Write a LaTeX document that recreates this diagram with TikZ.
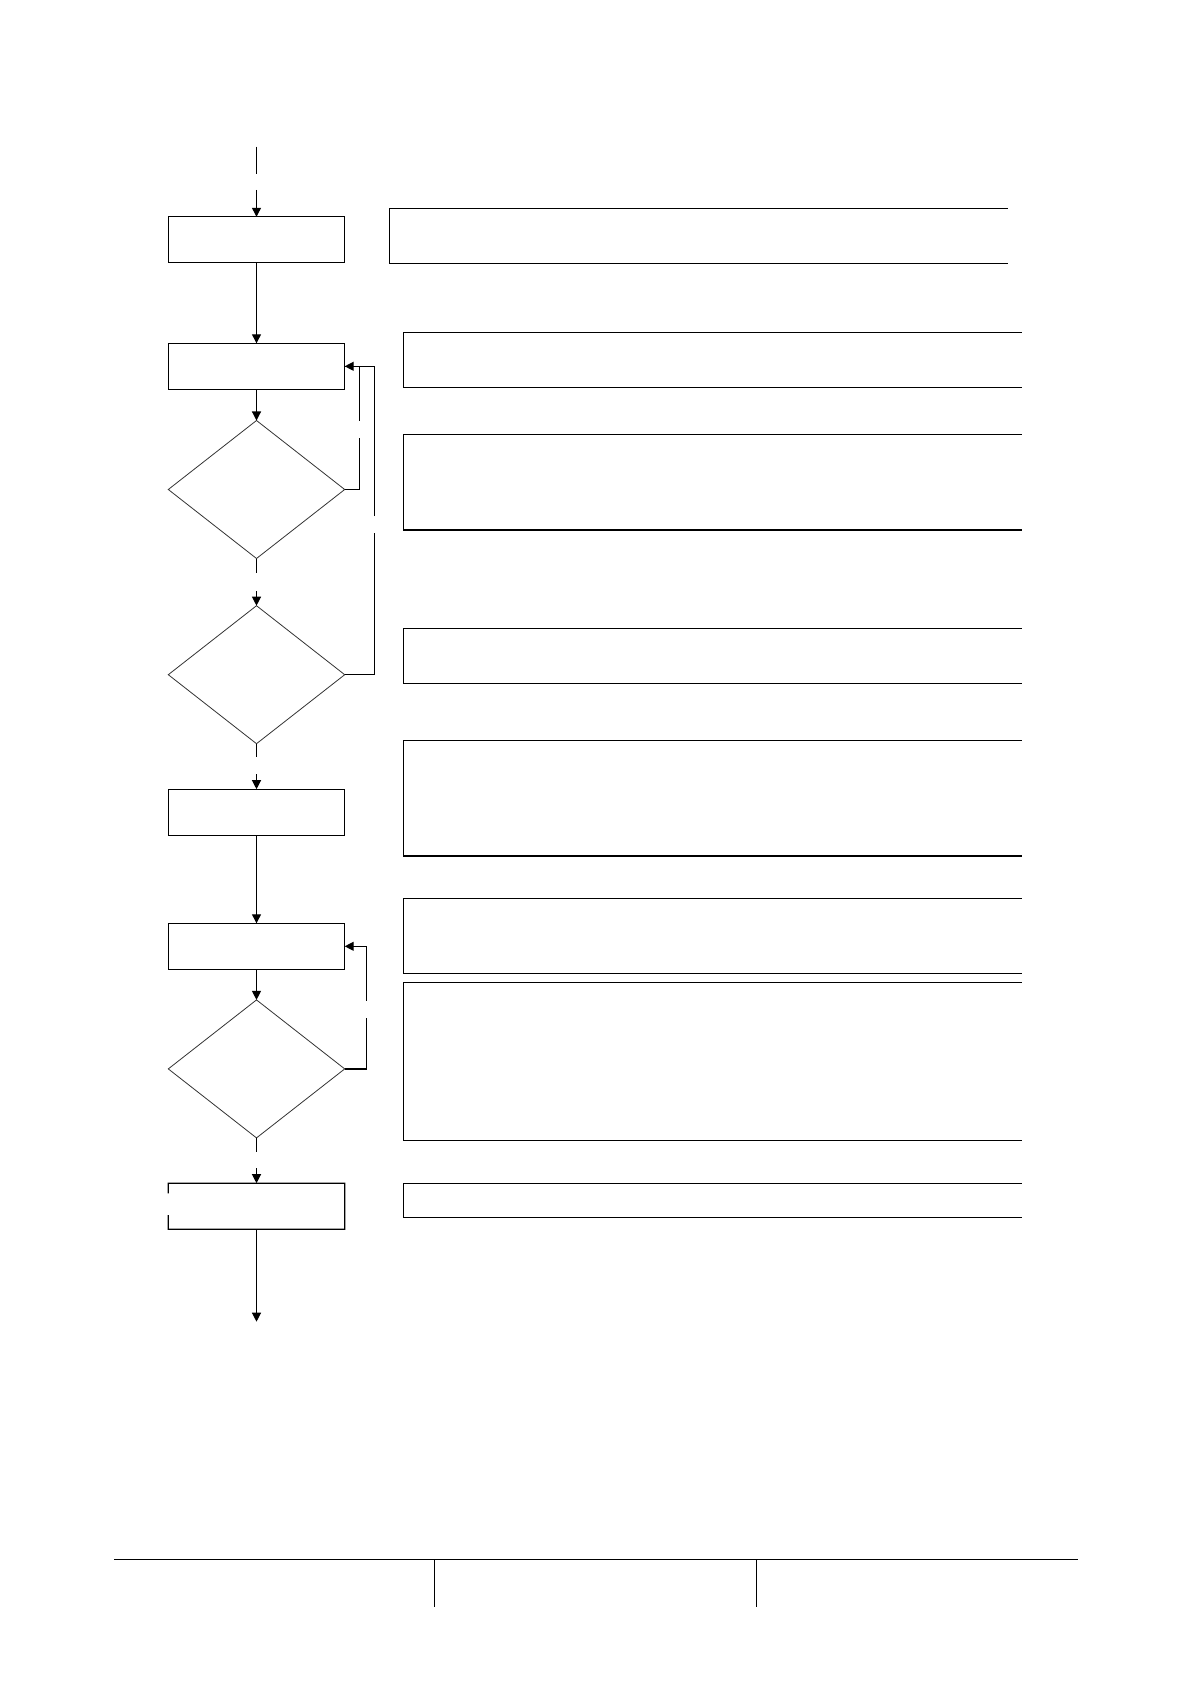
\documentclass[tikz,border=0pt]{standalone}
\usepackage{tikz}
\usetikzlibrary{shapes.geometric,arrows.meta,positioning}

\begin{document}
\begin{tikzpicture}[x=0.5pt,y=-0.5pt,
	stepbox/.style={draw,line width=0.6pt,minimum width=88.2pt,minimum height=23pt,inner sep=0pt,outer sep=0pt},
	testbox/.style={diamond,draw=black!80,line width=0.4pt,minimum width=88.2pt,minimum height=69pt,inner sep=0pt,outer sep=0pt},
	remark/.style={minimum width=309.2pt,inner sep=0pt,outer sep=0pt},
	conn/.style={line width=0.6pt},
	arr/.style={line width=0.6pt,-{Triangle[length=4.5pt,width=4.5pt]}}]
				\useasboundingbox (0,0) rectangle (1191,1684);
				% left column
				\node[stepbox] (box1) at (256.5,239.8) {};
				\node[stepbox] (box2) at (256.5,366.3) {};
				\node[testbox] (dia1) at (256.5,489.5) {};
				\node[testbox] (dia2) at (256.5,674.7) {};
				\node[stepbox] (box3) at (256.5,812.2) {};
				\node[stepbox] (box4) at (256.5,946.3) {};
				\node[testbox] (dia3) at (256.5,1068.9) {};
				\node[stepbox,draw=none] (box5) at (256.5,1206.2) {};
				\coordinate (g5a) at (168.3,1193.3);
				\coordinate (g5b) at (168.3,1215);
				\draw[conn] (g5a) |- (box5.north east) |- (box5.south west) -- (g5b);
				% free ends and gaps
				\coordinate (in) at (256.5,146.7);
				\coordinate (in1) at (256.5,174);
				\coordinate (in2) at (256.5,190);
				\coordinate (d1a) at (256.5,573.3);
				\coordinate (d1b) at (256.5,591.3);
				\coordinate (d2a) at (256.5,756.7);
				\coordinate (d2b) at (256.5,774);
				\coordinate (d3a) at (256.5,1151.7);
				\coordinate (d3b) at (256.5,1168.3);
				\coordinate (out) at (256.5,1321.7);
				\coordinate (l1a) at (359.3,438.3);
				\coordinate (l1b) at (359.3,420.7);
				\coordinate (l2a) at (374.3,533.3);
				\coordinate (l2b) at (374.3,516);
				\coordinate (l3a) at (366.7,1018.3);
				\coordinate (l3b) at (366.7,1000.7);
				% connectors
				\draw[conn] (in) -- (in1);
				\draw[arr] (in2) -- (box1);
				\draw[arr] (box1) -- (box2);
				\draw[arr] (box2) -- (dia1);
				\draw[conn] (dia1.south) -- (d1a);
				\draw[arr] (d1b) -- (dia2.north);
				\draw[conn] (dia2.south) -- (d2a);
				\draw[arr] (d2b) -- (box3);
				\draw[arr] (box3) -- (box4);
				\draw[arr] (box4) -- (dia3);
				\draw[conn] (dia3.south) -- (d3a);
				\draw[arr] (d3b) -- (box5);
				\draw[arr] (box5) -- (out);
				% loops back
				\draw[conn] (dia1.east) -| (l1a);
				\draw[arr] (l1b) |- (box2.east);
				\draw[conn] (dia2.east) -| (l2a);
				\draw[conn] (l2b) |- (box2.east);
				\draw[conn] (dia3.east) -| (l3a);
				\draw[arr] (l3b) |- (box4.east);
				% right column
				\node[remark,minimum height=27.5pt] (r1) at (698.3,235.8) {};
				\node[remark,minimum height=27.5pt] (r2) at (712.5,359.8) {};
				\node[remark,minimum height=47.85pt] (r3) at (712.5,482.2) {};
				\node[remark,minimum height=27.5pt] (r4) at (712.5,655.8) {};
				\node[remark,minimum height=57.75pt] (r5) at (712.5,798.3) {};
				\node[remark,minimum height=37.5pt] (r6) at (712.5,935.8) {};
				\node[remark,minimum height=79.1pt] (r7) at (712.5,1061.4) {};
				\node[remark,minimum height=17.05pt] (r8) at (712.5,1200.3) {};
				\draw[conn] (r1.north east) -| (r1.south west) -- (r1.south east);
				\draw[conn] (r2.north east) -| (r2.south west) -- (r2.south east);
				\draw[conn] (r3.north east) -| (r3.south west) -- (r3.south east);
				\draw[conn] (r4.north east) -| (r4.south west) -- (r4.south east);
				\draw[conn] (r5.north east) -| (r5.south west) -- (r5.south east);
				\draw[conn] (r6.north east) -| (r6.south west) -- (r6.south east);
				\draw[conn] (r7.north east) -| (r7.south west) -- (r7.south east);
				\draw[conn] (r8.north east) -| (r8.south west) -- (r8.south east);
				% footer
				\draw[line width=0.8pt] (114,1559.3) -- (1077.7,1559.3);
				\draw[line width=0.5pt] (434.3,1559.3) -- (434.3,1606.7);
				\draw[line width=0.5pt] (756.3,1559.3) -- (756.3,1606.7);
			\end{tikzpicture}
\end{document}
